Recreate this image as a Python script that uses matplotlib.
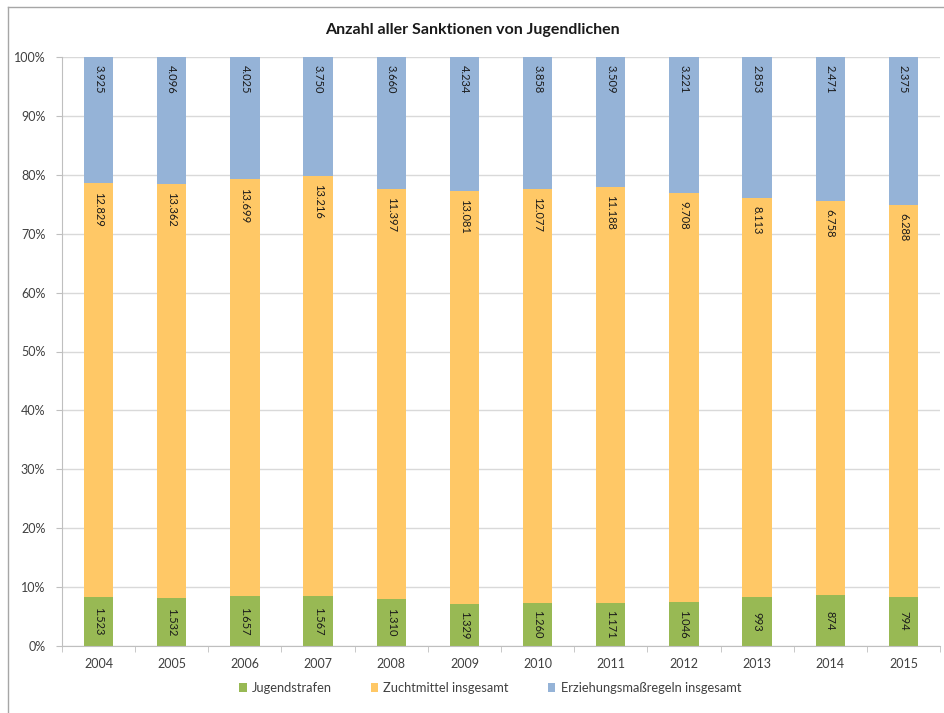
import matplotlib.pyplot as plt
from matplotlib.lines import Line2D
import numpy as np

# data
years = ['2004', '2005', '2006', '2007', '2008', '2009',
         '2010', '2011', '2012', '2013', '2014', '2015']
jugendstrafen = [1523, 1532, 1657, 1567, 1310, 1329, 1260, 1171, 1046, 993, 874, 794]
zuchtmittel = [12829, 13362, 13699, 13216, 11397, 13081, 12077, 11188, 9708, 8113, 6758, 6288]
erziehung = [3925, 4096, 4025, 3750, 3660, 4234, 3858, 3509, 3221, 2853, 2471, 2375]
series_names = ['Jugendstrafen', 'Zuchtmittel insgesamt', 'Erziehungsmaßregeln insgesamt']

colors = ['#98B954', '#FFC866', '#95B3D7']

plt.rcParams['font.family'] = ['Lato', 'DejaVu Sans']


def fmt(v):
    return f'{v:,}'.replace(',', '.')


fig = plt.figure(figsize=(9.45, 7.13), dpi=100)
ax = fig.add_axes([62 / 945, 1 - 646 / 713, 878 / 945, 589 / 713])

x = np.arange(len(years))
data = np.array([jugendstrafen, zuchtmittel, erziehung], dtype=float)
totals = data.sum(axis=0)
pct = data / totals * 100

width = 0.4
bottom = np.zeros(len(years))
for k in range(3):
    ax.bar(x, pct[k], width=width, bottom=bottom, color=colors[k],
           label=series_names[k], zorder=2)
    for i in range(len(years)):
        if k == 0:
            y = bottom[i] + pct[k][i] / 2
            va = 'center'
        else:
            y = bottom[i] + pct[k][i] - 1.4
            va = 'top'
        ax.text(x[i], y, fmt(int(data[k][i])), rotation=270, ha='center', va=va,
                fontsize=8, color='#1a1a1a', zorder=3)
    bottom += pct[k]

ax.set_xlim(-0.5, len(years) - 0.5)
ax.set_ylim(0, 100)
ax.set_yticks(range(0, 101, 10))
ax.set_yticklabels([f'{v}%' for v in range(0, 101, 10)])
ax.set_xticks(x)
ax.set_xticklabels(years)
ax.set_xticks(np.arange(-0.5, len(years)), minor=True)
ax.tick_params(axis='x', which='major', length=0, pad=9, labelsize=9, labelcolor='#404040')
ax.tick_params(axis='x', which='minor', length=4, color='#BFBFBF', direction='out')
ax.tick_params(axis='y', length=4, color='#BFBFBF', labelsize=9, labelcolor='#404040', pad=8)
ax.grid(axis='y', color='#D9D9D9', linewidth=1, zorder=0)
for s in ['top', 'right']:
    ax.spines[s].set_visible(False)
ax.spines['left'].set_color('#BFBFBF')
ax.spines['bottom'].set_color('#BFBFBF')

fig.text(0.5, 1 - 30 / 713, 'Anzahl aller Sanktionen von Jugendlichen', ha='center', va='center',
         fontsize=11.5, fontweight='bold', color='#1a1a1a')

ax.legend(loc='center', bbox_to_anchor=((490 - 62) / 878, (646 - 688) / 589),
          bbox_transform=ax.transAxes, ncol=3, frameon=False,
          fontsize=9.3, handlelength=0.6, handleheight=0.6, handletextpad=0.4,
          columnspacing=3.0, labelcolor='#404040')

# chart frame
fig.add_artist(Line2D([8 / 945, 8 / 945], [0, 1 - 7 / 713], transform=fig.transFigure,
                      color='#A6A6A6', linewidth=1))
fig.add_artist(Line2D([8 / 945, 943 / 945], [1 - 7 / 713, 1 - 7 / 713], transform=fig.transFigure,
                      color='#A6A6A6', linewidth=1))

fig.savefig('out.png', dpi=100)
